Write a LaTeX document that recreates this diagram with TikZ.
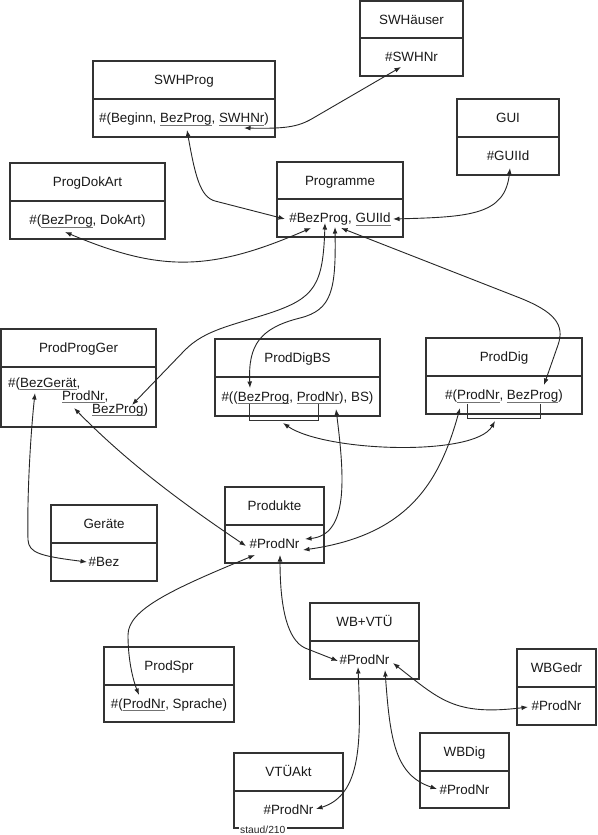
\documentclass[tikz,border=0pt]{standalone}
\usepackage{fontspec}
\setmainfont{Liberation Sans}
\usetikzlibrary{arrows.meta}
\newcommand{\uln}[1]{\setbox0\hbox{#1}\rlap{\color{black!55}\rule[-2.6pt]{\wd0}{0.7pt}}\box0}
\newcommand{\entity}[8]{%
  \path[boxline] (#2,#3) rectangle (#4,#6);
  \draw[boxline] (#2,#5) -- (#4,#5);
  \node[ttl] (#1-t) at ({(#2+#4)/2},{(#3+#5)/2+4.8}) {#7};
  \node[ttl] (#1-a) at ({(#2+#4)/2},{(#5+#6)/2+4.8}) {#8};
}
\begin{document}
\begin{tikzpicture}[x=1pt,y=-1pt,
  boxline/.style={draw=black!80, line width=1.1pt, fill=white},
  ttl/.style={anchor=base, inner sep=0pt, font=\fontsize{13.4}{16}\selectfont, text=black!90},
  lft/.style={anchor=base west, inner sep=0pt, font=\fontsize{13.4}{16}\selectfont, text=black!90},
  brk/.style={draw=black!80, line width=1pt},
  conn/.style={draw=black!85, line width=0.9pt, {Latex[length=6.5pt,width=4.8pt]}-{Latex[length=6.5pt,width=4.8pt]}}]
\useasboundingbox (0,0) rectangle (597,835);
\fill[white] (0,0) rectangle (597,835);

% entities
\entity{swh}{360}{1}{463}{38}{76}{SWHäuser}{\#SWHNr}
\entity{swhp}{93}{61}{275}{99}{137}{SWHProg}{\#(Beginn, \uln{BezProg}, \uln{SWHNr})}
\entity{gui}{457}{99}{559}{137}{175}{GUI}{\#GUIId}
\entity{pda}{10}{163}{165}{201}{239}{ProgDokArt}{\#(\uln{BezProg}, DokArt)}
\entity{prog}{277}{162}{403}{199}{237}{Programme}{\#BezProg, \uln{GUIId}}
\entity{ppg}{1}{329}{156}{367}{427}{ProdProgGer}{}
\node[lft] (ppg-a1) at (8,387) {\#(\uln{BezGerät},};
\node[lft] (ppg-a2) at (62,400) {\uln{ProdNr},};
\node[lft] (ppg-a3) at (92,413) {\uln{BezProg})};
\entity{pdbs}{215}{339}{380}{377}{416}{ProdDigBS}{\#((\uln{BezProg}, \uln{ProdNr}), BS)}
\entity{pd}{426}{338}{582}{376}{414}{ProdDig}{\#(\uln{ProdNr}, \uln{BezProg})}
\entity{prod}{225}{487}{324}{525}{563}{Produkte}{\#ProdNr}
\entity{ger}{51}{505}{157}{543}{581}{Geräte}{\#Bez}
\entity{wbv}{310}{603}{419}{641}{679}{WB+VTÜ}{\#ProdNr}
\entity{spr}{104}{647}{234}{685}{722}{ProdSpr}{\#(\uln{ProdNr}, Sprache)}
\entity{wbg}{517}{649}{596}{687}{725}{WBGedr}{\#ProdNr}
\entity{wbd}{420}{733}{509}{771}{808}{WBDig}{\#ProdNr}
\entity{vtu}{234}{753}{343}{791}{828}{VTÜAkt}{\#ProdNr}
\node[anchor=base west, fill=white, inner xsep=1.5pt, inner ysep=0.5pt,
  font=\fontsize{10.3}{11}\selectfont, text=black!85] (staud) at (238.5,833.5) {staud/210};

% brackets
\draw[brk] (249,404) -- (249,420) -- (318,420) -- (318,404);
\draw[brk] (467,404) -- (467,418) -- (540,418) -- (540,404);

% connector end points
\coordinate (swh-nr) at (401,67);
\coordinate (swhp-nr) at (244,128);
\coordinate (swhp-bez) at (187,130);
\coordinate (prog-bez) at (285,219);
\coordinate (pda-bez) at (65,232);
\coordinate (prog-b) at (311,228);
\coordinate (prog-a) at (325,223);
\coordinate (prog-x) at (335,227);
\coordinate (prog-c) at (341,228);
\coordinate (prog-gui) at (393,219);
\coordinate (gui-id) at (510,168);
\coordinate (pd-bez) at (544,385);
\coordinate (ppg-bez) at (132,405);
\coordinate (ppg-ger) at (35,393);
\coordinate (ger-bez) at (87,562);
\coordinate (ppg-nr) at (74,408);
\coordinate (prod-a) at (246,546);
\coordinate (pdbs-bez) at (250,388);
\coordinate (pdbs-nr) at (336,409);
\coordinate (prod-b) at (305,539);
\coordinate (pd-nr) at (460,408);
\coordinate (prod-c) at (303,550);
\coordinate (pdbs-br) at (283,423);
\coordinate (pd-br) at (495,421);
\coordinate (prod-d) at (255,555);
\coordinate (spr-nr) at (139,695);
\coordinate (prod-e) at (280,555);
\coordinate (wbv-a) at (338,661);
\coordinate (wbv-b) at (358,667);
\coordinate (vtu-nr) at (316,809);
\coordinate (wbv-c) at (385,670);
\coordinate (wbd-nr) at (437,789);
\coordinate (wbv-d) at (393,663);
\coordinate (wbg-nr) at (528,707);

% connectors
\draw[conn] (swhp-nr) .. controls (290,129) and (300,126) .. (315,117) -- (swh-nr);
\draw[conn] (swhp-bez) .. controls (195,175) and (200,197) .. (215,201) -- (prog-bez);
\draw[conn] (pda-bez) .. controls (160,272) and (210,272) .. (prog-b);
\draw[conn] (prog-a) .. controls (323,285) and (315,298) .. (270,313) .. controls (230,326) and (205,330) .. (185,350) -- (ppg-bez);
\draw[conn] (prog-x) .. controls (336,290) and (332,310) .. (300,318) .. controls (260,328) and (248,345) .. (pdbs-bez);
\draw[conn] (prog-c) -- (520,298) .. controls (555,312) and (565,325) .. (558,345) -- (pd-bez);
\draw[conn] (prog-gui) .. controls (470,217) and (505,215) .. (gui-id);
\draw[conn] (ppg-ger) .. controls (30,440) and (27,500) .. (28,540) .. controls (29,553) and (40,556) .. (ger-bez);
\draw[conn] (ppg-nr) .. controls (120,455) and (170,495) .. (prod-a);
\draw[conn] (pdbs-nr) .. controls (345,480) and (348,535) .. (prod-b);
\draw[conn] (pd-nr) .. controls (440,480) and (410,535) .. (prod-c);
\draw[conn] (pdbs-br) .. controls (325,452) and (475,457) .. (pd-br);
\draw[conn] (prod-d) .. controls (170,590) and (128,610) .. (128,635) .. controls (128,660) and (133,680) .. (spr-nr);
\draw[conn] (prod-e) .. controls (280,610) and (288,640) .. (305,648) -- (wbv-a);
\draw[conn] (wbv-b) .. controls (361,740) and (362,795) .. (vtu-nr);
\draw[conn] (wbv-c) .. controls (390,740) and (395,775) .. (wbd-nr);
\draw[conn] (wbv-d) .. controls (440,700) and (455,716) .. (wbg-nr);
\end{tikzpicture}
\end{document}
